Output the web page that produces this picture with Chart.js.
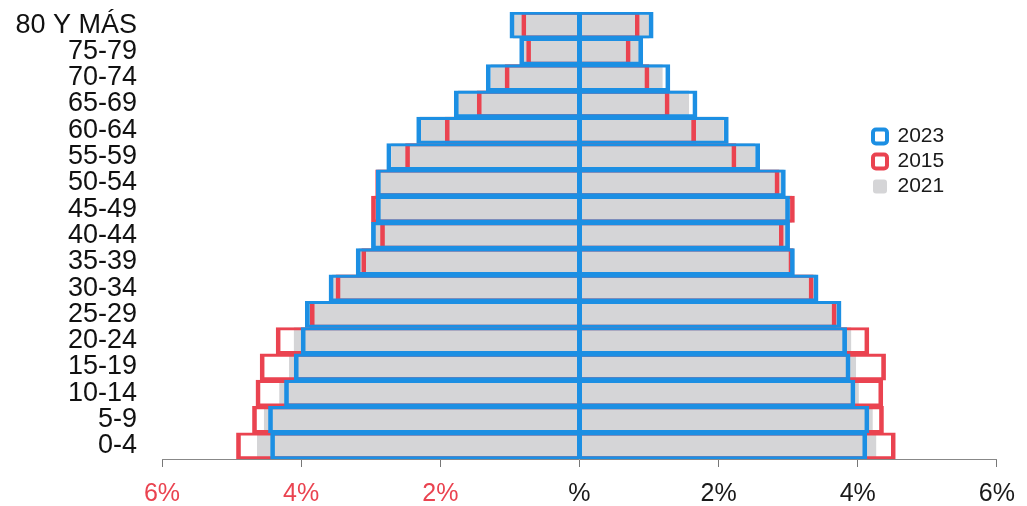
<!DOCTYPE html>
<html>
<head>
<meta charset="utf-8">
<script src="https://cdn.jsdelivr.net/npm/chart.js@4.4.1/dist/chart.umd.min.js"></script>
<style>
  html, body { margin: 0; padding: 0; background: #fff; }
  #wrap { width: 1027px; height: 506px; position: relative; }
</style>
</head>
<body>
<div id="wrap"><canvas id="pyr"></canvas></div>
<script>
// age groups, top to bottom
const ageGroups = ['80 Y MÁS', '75-79', '70-74', '65-69', '60-64', '55-59', '50-54', '45-49', '40-44',
  '35-39', '30-34', '25-29', '20-24', '15-19', '10-14', '5-9', '0-4'];

// % of population, left side / right side
const left2023  = [1.0, 0.86, 1.34, 1.8, 2.34, 2.77, 2.92, 2.92, 2.99, 3.21, 3.6, 3.94, 4.0, 4.1, 4.24, 4.47, 4.44];
const right2023 = [1.06, 0.91, 1.3, 1.69, 2.14, 2.59, 2.96, 3.02, 3.02, 3.09, 3.43, 3.76, 3.84, 3.89, 3.96, 4.16, 4.13];
const left2015  = [0.83, 0.76, 1.07, 1.47, 1.93, 2.5, 2.93, 2.99, 2.86, 3.13, 3.5, 3.87, 4.36, 4.59, 4.65, 4.7, 4.93];
const right2015 = [0.86, 0.73, 1.0, 1.29, 1.67, 2.25, 2.87, 3.09, 2.93, 3.07, 3.36, 3.69, 4.16, 4.4, 4.36, 4.37, 4.54];
const left2021  = [0.95, 0.83, 1.27, 1.74, 2.29, 2.7, 2.9, 2.95, 2.96, 3.17, 3.55, 3.9, 4.1, 4.17, 4.31, 4.53, 4.63];
const right2021 = [1.0, 0.88, 1.19, 1.57, 2.07, 2.52, 2.93, 3.05, 3.0, 3.08, 3.4, 3.73, 3.9, 3.97, 4.01, 4.21, 4.26];

const xTicks = [-6, -4, -2, 0, 2, 4, 6];

const BLUE = '#1c8fe3';
const RED = '#ea4350';
const GRAY = '#d5d5d7';

// floating bars [-left, right]
const span = (l, r) => l.map((v, i) => [-v, r[i]]);

const edge = { top: 2.5, bottom: 2.5, left: 4, right: 4 };

// put the legend inside the plot, to the right of the pyramid
const legendSpot = {
  id: 'legendSpot',
  afterLayout(chart) {
    const l = chart.legend;
    l.left = 869; l.right = l.left + 140;
    l.top = 122; l.bottom = l.top + 300;
  }
};

new Chart(document.getElementById('pyr'), {
  type: 'bar',
  data: {
    labels: ageGroups,
    datasets: [
      { label: '2023', data: span(left2023, right2023), backgroundColor: 'rgba(0,0,0,0)',
        borderColor: BLUE, borderWidth: edge },
      { label: '2015', data: span(left2015, right2015), backgroundColor: 'rgba(0,0,0,0)',
        borderColor: RED, borderWidth: edge },
      { label: '2021', data: span(left2021, right2021), backgroundColor: GRAY,
        borderColor: GRAY, borderWidth: 0 }
    ]
  },
  options: {
    indexAxis: 'y',
    responsive: true,
    maintainAspectRatio: false,
    animation: false,
    layout: { padding: { top: 12, right: 24, bottom: 0, left: 0 } },
    datasets: {
      bar: { grouped: false, categoryPercentage: 1, barPercentage: 1, borderSkipped: false }
    },
    scales: {
      x: {
        min: -6, max: 6,
        afterBuildTicks: (s) => { s.ticks = xTicks.map(v => ({ value: v })); },
        afterFit: (s) => { s.height = 47; },
        ticks: {
          padding: 12,
          font: { family: 'Liberation Sans', size: 25 },
          color: (c) => c.tick.value < 0 ? RED : '#1a1a1a',
          callback: (v) => v === 0 ? '%' : Math.abs(v) + '%'
        },
        grid: {
          z: 1,
          color: (c) => c.tick && c.tick.value === 0 ? BLUE : 'rgba(0,0,0,0)',
          lineWidth: (c) => c.tick && c.tick.value === 0 ? 5 : 1,
          tickColor: '#777',
          tickWidth: 1,
          tickLength: 8
        },
        border: { display: true, color: '#888', width: 1, z: 2 }
      },
      y: {
        afterFit: (s) => { s.width = 162; s.paddingTop = 0; s.paddingBottom = 0; },
        ticks: {
          autoSkip: false,
          padding: 0,
          font: { family: 'Liberation Sans', size: 27 },
          color: '#111'
        },
        grid: { display: true, drawOnChartArea: false, tickLength: 25, tickColor: 'rgba(0,0,0,0)' },
        border: { display: false }
      }
    },
    plugins: {
      legend: {
        position: 'chartArea',
        align: 'start',
        labels: {
          boxWidth: 14,
          boxHeight: 14,
          padding: 4,
          useBorderRadius: true,
          borderRadius: 3,
          color: '#1a1a1a',
          font: { family: 'Liberation Sans', size: 21 },
          generateLabels: (chart) => Chart.defaults.plugins.legend.labels.generateLabels(chart)
            .map(item => Object.assign(item, { lineWidth: item.text === '2021' ? 0 : 4 }))
        }
      },
      tooltip: { enabled: false }
    }
  },
  plugins: [legendSpot]
});
</script>
</body>
</html>
